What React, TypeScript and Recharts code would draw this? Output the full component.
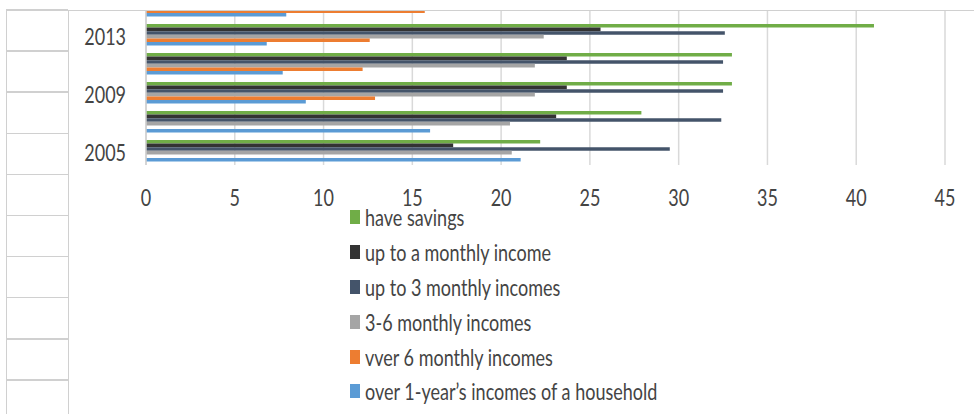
import React from 'react';
import { BarChart, Bar, XAxis, YAxis, CartesianGrid, Legend } from 'recharts';

// survey years, bottom to top (only every other one is labelled)
const years = ['2005', '2007', '2009', '2011', '2013', '2015'];

// values in % (top group is cut off in the source)
const haveSavings = [22.2, 27.9, 33.0, 33.0, 41.0, null];
const upToMonthly = [17.3, 23.1, 23.7, 23.7, 25.6, null];
const upToThree = [29.5, 32.4, 32.5, 32.5, 32.6, null];
const threeToSix = [20.6, 20.5, 21.9, 21.9, 22.4, 24.6];
const overSix = [null, null, 12.9, 12.2, 12.6, 15.7];
const overYear = [21.1, 16.0, 9.0, 7.7, 6.8, 7.9];

const seriesNames = [
  'have savings',
  'up to a monthly income',
  'up to 3 monthly incomes',
  '3-6 monthly incomes',
  'vver 6 monthly incomes',
  'over 1-year\u2019s incomes of a household',
];
const seriesColors = ['#70ad47', '#333333', '#44546a', '#a5a5a5', '#ed7d31', '#5b9bd5'];
const seriesValues = [haveSavings, upToMonthly, upToThree, threeToSix, overSix, overYear];

const xTicks = [0, 5, 10, 15, 20, 25, 30, 35, 40, 45];

const data = years.map((year, i) => {
  const row: Record<string, any> = { year };
  seriesValues.forEach((vals, k) => {
    row[`s${k}`] = vals[i];
  });
  return row;
});

const FONT = 'Lato, "Open Sans", sans-serif';
const TEXT = '#444444';
const LINE = '#d0d0d0';
const STRETCH = 1.25;

const XTick = (props: any) => {
  const { x, y, payload } = props;
  return (
    <text
      x={0}
      y={0}
      transform={`translate(${x},${y - 1}) scale(1,${STRETCH})`}
      textAnchor="middle"
      dominantBaseline="central"
      fill={TEXT}
      fontSize={18}
      fontFamily={FONT}
    >
      {payload.value}
    </text>
  );
};

const YTick = (props: any) => {
  const { x, y, payload } = props;
  return (
    <text
      x={0}
      y={0}
      transform={`translate(${x},${y + 1.5}) scale(1,${STRETCH})`}
      textAnchor="end"
      dominantBaseline="central"
      fill={TEXT}
      fontSize={18}
      fontFamily={FONT}
    >
      {payload.value}
    </text>
  );
};

const LegendList = () => (
  <div>
    {seriesNames.map((name, k) => (
      <div key={name} style={{ height: 34.8, display: 'flex', alignItems: 'center' }}>
        <span style={{ width: 10, height: 14, background: seriesColors[k], marginRight: 5 }} />
        <span
          style={{
            display: 'inline-block',
            fontSize: 18,
            lineHeight: 1,
            color: TEXT,
            fontFamily: FONT,
            whiteSpace: 'nowrap',
            transform: `scaleY(${STRETCH})`,
          }}
        >
          {name}
        </span>
      </div>
    ))}
  </div>
);

export default function App() {
  const rowLines = Array.from({ length: 10 }, (_, i) => 10 + i * 41.1);
  return (
    <div
      style={{
        position: 'absolute',
        left: 0,
        top: 0,
        width: 974,
        height: 414,
        overflow: 'hidden',
        background: '#fff',
      }}
    >
      <div style={{ position: 'absolute', left: 0, top: 10, width: 974, height: 404, overflow: 'hidden' }}>
        <div style={{ position: 'absolute', left: 0, top: -19 }}>
          <BarChart
            width={974}
            height={423}
            data={data}
            layout="vertical"
            barGap={0}
            margin={{ top: 0, right: 29, bottom: 209, left: 0 }}
          >
            <CartesianGrid horizontal={false} stroke="#d9d9d9" strokeWidth={1.5} />
            <XAxis
              type="number"
              domain={[0, 45]}
              ticks={xTicks}
              axisLine={false}
              tickLine={false}
              tickSize={0}
              tickMargin={33}
              height={40}
              tick={<XTick />}
            />
            <YAxis
              type="category"
              dataKey="year"
              reversed
              width={146}
              interval={1}
              axisLine={{ stroke: LINE, strokeWidth: 1.5 }}
              tickLine={false}
              tickSize={0}
              tickMargin={20}
              tick={<YTick />}
            />
            <Legend
              layout="vertical"
              align="center"
              verticalAlign="middle"
              wrapperStyle={{ left: 350, top: 209, width: 'auto', height: 'auto' }}
              content={<LegendList />}
            />
            {seriesNames.map((name, k) => (
              <Bar
                key={name}
                dataKey={`s${k}`}
                name={name}
                fill={seriesColors[k]}
                barSize={3.6}
                isAnimationActive={false}
              />
            ))}
          </BarChart>
        </div>
      </div>
      {/* spreadsheet frame around the picture */}
      <div style={{ position: 'absolute', left: 6, top: 9.5, width: 968, height: 1.5, background: LINE }} />
      <div style={{ position: 'absolute', left: 5.5, top: 10, width: 1.5, height: 404, background: LINE }} />
      <div style={{ position: 'absolute', left: 67.5, top: 10, width: 1.5, height: 404, background: LINE }} />
      {rowLines.map((y) => (
        <div key={y} style={{ position: 'absolute', left: 6, top: y - 0.75, width: 62, height: 1.5, background: LINE }} />
      ))}
    </div>
  );
}
